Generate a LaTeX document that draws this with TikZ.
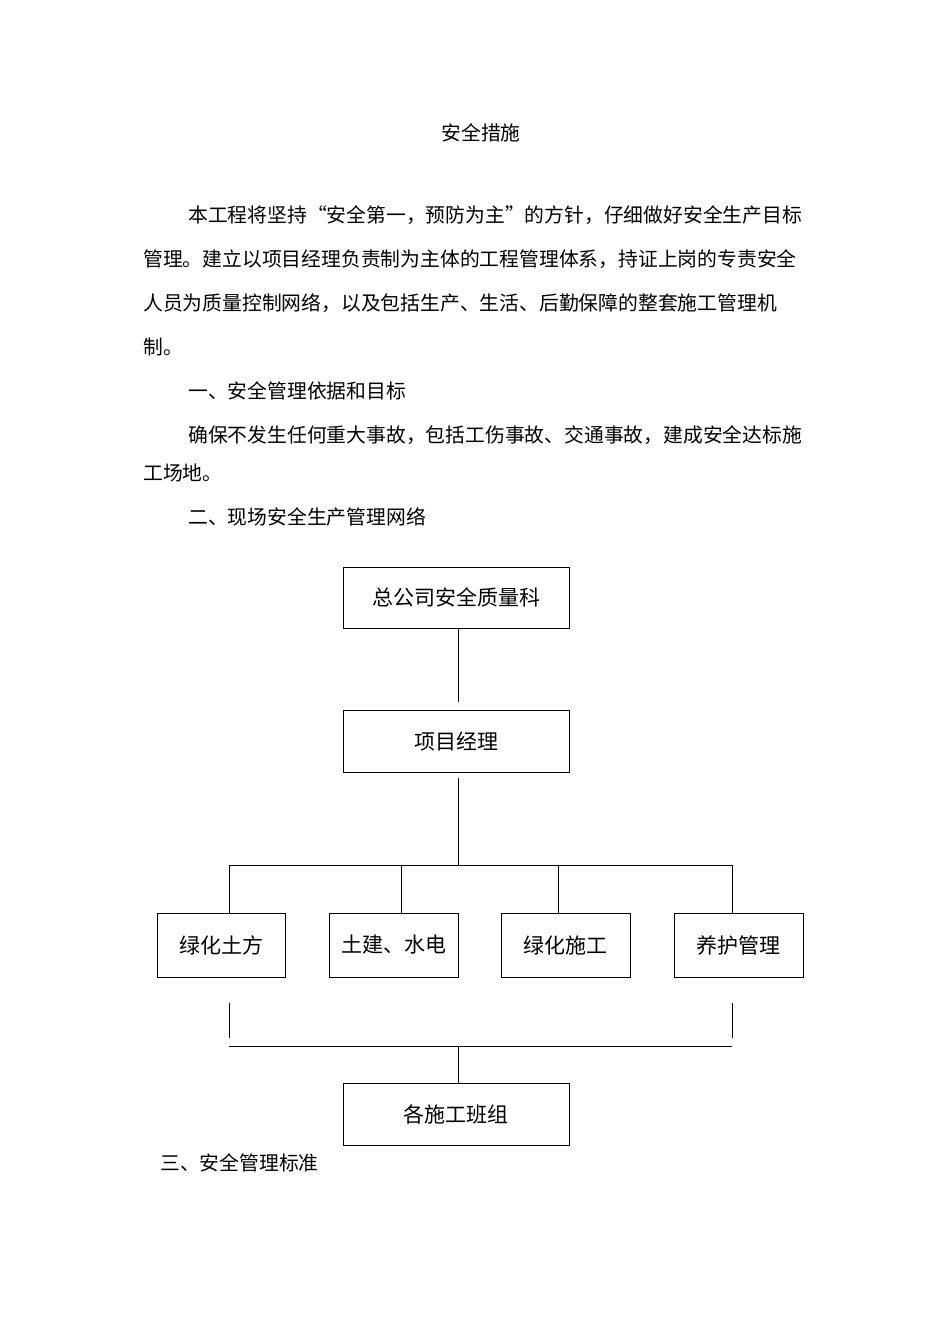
\documentclass[tikz,border=0pt]{standalone}
\usepackage{fontspec}
\setmainfont{Noto Sans CJK SC}
\begin{document}
\begin{tikzpicture}[x=1pt,y=-1pt,
  txt/.style={anchor=base west,inner sep=0pt,font=\fontsize{19.8}{20}\selectfont},
  box/.style={draw,line width=1pt,inner sep=0pt,font=\fontsize{21}{22}\selectfont},
  ln/.style={line width=1pt}]
\useasboundingbox[fill=white] (0,0) rectangle (950,1344);
\node[txt,anchor=base] (t0) at (481,140) {安全措施};
\node[txt] (p1) at (188,222) {本工程将坚持“安全第一，预防为主”的方针，仔细做好安全生产目标};
\node[txt] (p2) at (143,266) {管理。建立以项目经理负责制为主体的工程管理体系，持证上岗的专责安全};
\node[txt] (p3) at (143,310) {人员为质量控制网络，以及包括生产、生活、后勤保障的整套施工管理机};
\node[txt] (p4) at (143,354) {制。};
\node[txt] (h1) at (188,398) {一、安全管理依据和目标};
\node[txt] (p5) at (188,442) {确保不发生任何重大事故，包括工伤事故、交通事故，建成安全达标施};
\node[txt] (p6) at (143,480) {工场地。};
\node[txt] (h2) at (188,524) {二、现场安全生产管理网络};
\node[box,minimum width=226,minimum height=61] (b1) at (456,597.5) {总公司安全质量科};
\node[box,minimum width=226,minimum height=62] (b2) at (456,741) {项目经理};
\node[box,minimum width=128,minimum height=64] (c1) at (221,945) {绿化土方};
\node[box,minimum width=129,minimum height=64] (c2) at (393.5,945) {土建、水电};
\node[box,minimum width=129,minimum height=64] (c3) at (565.5,945) {绿化施工};
\node[box,minimum width=129,minimum height=64] (c4) at (738.5,945) {养护管理};
\node[box,minimum width=226,minimum height=62] (b3) at (456,1114) {各施工班组};
\node[txt] (h3) at (160,1170) {三、安全管理标准};
\coordinate (j1) at (458,865);
\coordinate (l1) at (229,865);
\coordinate (r1) at (732,865);
\draw[ln] (458,628) -- (458,702);
\draw[ln] (458,778) -- (j1);
\draw[ln] (l1) -- (r1);
\draw[ln] (229,865) -- (229,913);
\draw[ln] (401,865) -- (401,913);
\draw[ln] (558,865) -- (558,913);
\draw[ln] (732,865) -- (732,913);
\draw[ln] (229,1003) -- (229,1038);
\draw[ln] (732,1003) -- (732,1038);
\draw[ln] (229,1046) -- (732,1046);
\draw[ln] (458,1046) -- (b3.north -| 458,0);
\end{tikzpicture}
\end{document}
